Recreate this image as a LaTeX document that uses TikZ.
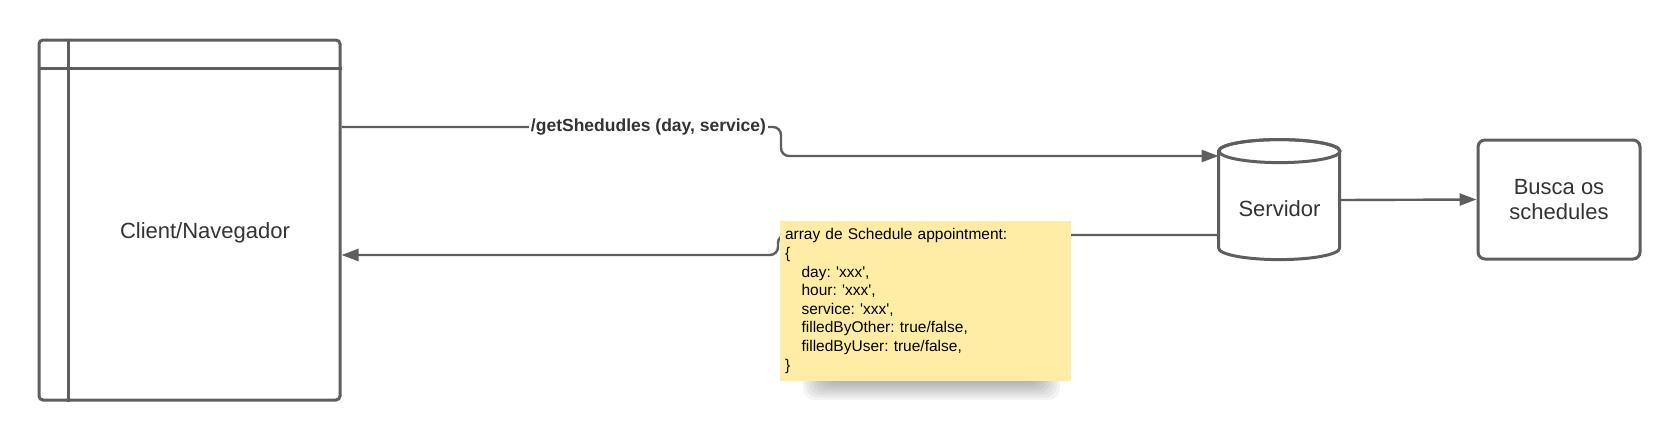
\documentclass[tikz,border=0pt]{standalone}
\usepackage{fontspec}
\setmainfont{Liberation Sans}
\newfontfamily\notefont{Liberation Sans}[Ligatures=TeXOff]
\usetikzlibrary{arrows.meta,calc}
\definecolor{linegray}{HTML}{5E5E5E}
\definecolor{txtgray}{HTML}{333333}
\definecolor{notefill}{HTML}{FFEDA6}
\frenchspacing
\begin{document}
\begin{tikzpicture}[x=0.5pt,y=0.5pt,
    box/.style={draw=linegray, line width=1.5pt, fill=white},
    conn/.style={draw=linegray, line width=1.2pt, rounded corners=4pt},
    arr/.style={-{Triangle[length=8.5pt,width=6pt]}},
    lbl/.style={text=txtgray, font=\fontsize{11}{12.5}\selectfont, align=center}]
    \useasboundingbox (0,0) rectangle (1680,441);

    % Client
    \node[box, rounded corners=2pt, minimum width=150.5pt, minimum height=180pt] (client) at (189.5,221) {};
    \draw[linegray, line width=1.5pt] ($(client.north west)+(31,0)$) -- ($(client.south west)+(31,0)$);
    \draw[linegray, line width=1.5pt] ($(client.north west)+(0,-30)$) -- ($(client.north east)+(0,-30)$);
    \node[lbl] (clienttxt) at (205,208) {Client/Navegador};

    % Servidor
    \node[minimum width=60.5pt, minimum height=60pt] (srv) at (1279.5,241) {};
    \draw[box] ($(srv.north west)+(0,-11.5)$) -- ++(0,-97)
        arc[start angle=180, end angle=360, x radius=30.25pt, y radius=5.75pt]
        -- ++(0,97)
        arc[start angle=0, end angle=180, x radius=30.25pt, y radius=5.75pt] -- cycle;
    \draw[linegray, line width=1.5pt] ($(srv.north)+(0,-11.5)$) ellipse[x radius=30.25pt, y radius=5.75pt];
    \node[lbl] (srvtxt) at ($(srv)+(0,-9)$) {Servidor};

    % Busca
    \node[box, rounded corners=3.5pt, minimum width=81pt, minimum height=59.5pt, lbl] (busca) at (1559,241.5) {Busca os\\schedules};
    \draw[conn, arr] (srv.east) -- (busca.west);

    % Request
    \draw[conn, arr] ($(client.east)+(0,93)$) -- (781,314) -- (781,285) -- ($(srv.west)+(0,44)$);
    \node[fill=white, inner sep=1pt, text=txtgray, font=\bfseries\fontsize{8.75}{10}\selectfont] (getlbl) at (648.5,314) {/getShedudles (day, service)};

    % Response
    \draw[conn, arr] ($(srv.west)+(0,-35)$) -- (778,206) -- (778,186) -- ($(client.east)+(0,-35)$);

    % Note shadow
    \foreach \k in {0,...,7}
        \fill[black, opacity=0.045, rounded corners=6pt] (803+3*\k,41+2.5*\k) rectangle (1060-3*\k,100);
    % Note
    \node[fill=notefill, minimum width=145.5pt, minimum height=80pt, text width=140.5pt, inner xsep=2.5pt,
        align=left, font=\notefont\fontsize{7.75}{9.3}\selectfont\frenchspacing] (note) at (925.5,140)
        {array de Schedule appointment:\\
         \{\\
         \hspace*{8.3pt}day: 'xxx',\\
         \hspace*{8.3pt}hour: 'xxx',\\
         \hspace*{8.3pt}service: 'xxx',\\
         \hspace*{8.3pt}filledByOther: true/false,\\
         \hspace*{8.3pt}filledByUser: true/false,\\
         \}};
\end{tikzpicture}
\end{document}
